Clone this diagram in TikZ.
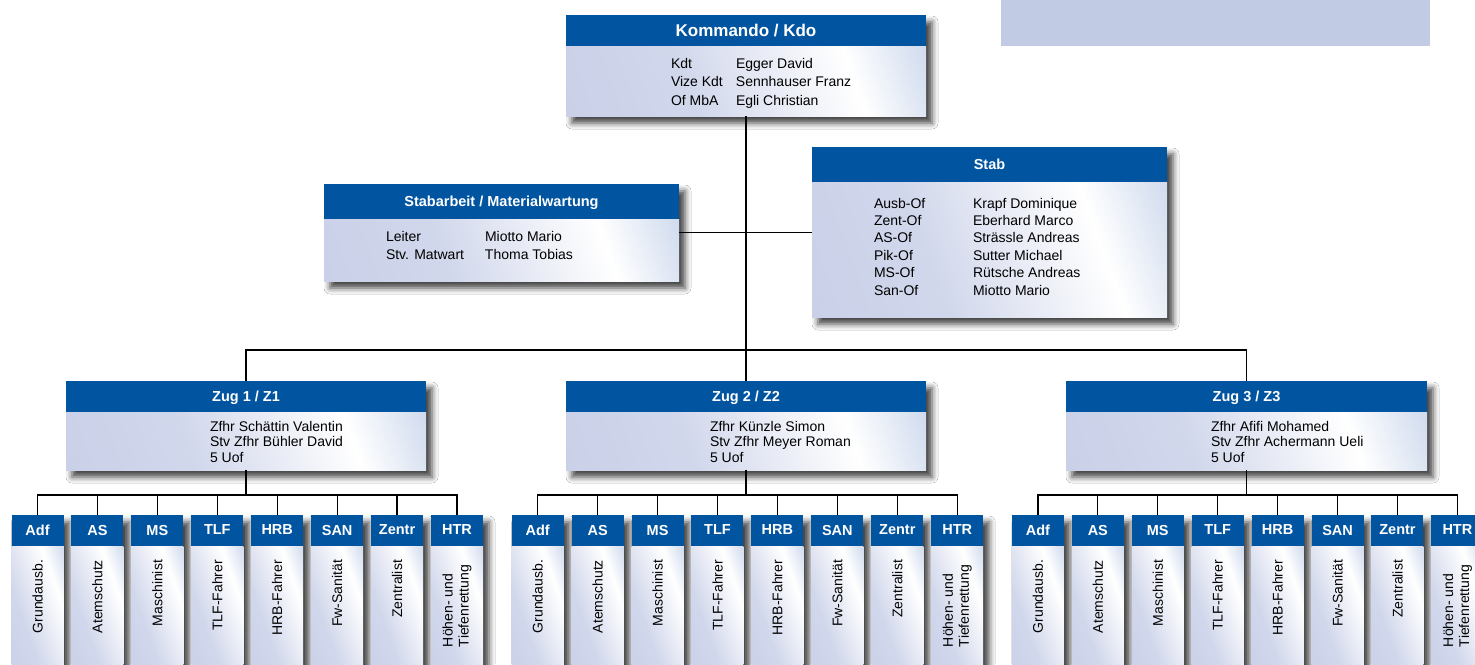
\documentclass[tikz,border=0pt]{standalone}
\usepackage{fontspec}
\setmainfont{Liberation Sans}
\usetikzlibrary{shadows.blur}
\definecolor{hdrblue}{RGB}{0,84,160}
\definecolor{bodyL}{RGB}{194,202,229}
\definecolor{bodyR}{RGB}{148,173,216}
\definecolor{topbar}{RGB}{193,203,227}
\pgfdeclarehorizontalshading{bodyshade}{100bp}{color(0bp)=(bodyL); color(40bp)=(bodyL!75!white); color(68bp)=(white); color(100bp)=(bodyR)}
\newcommand\obox[7]{%
  \node[frame, minimum width=#4, minimum height=#6, anchor=north west] (#1) at (#2,#3) {};
  \node[hdr, minimum width=#4, minimum height=#5, anchor=north west] (#1h) at (#1.north west) {#7};
  \node[bodyb, minimum width=#4, minimum height=#6-#5, anchor=north west] (#1b) at (#1h.south west) {};
}
\begin{document}
\begin{tikzpicture}[x=1pt,y=-1pt,
  frame/.style={inner sep=0, outer sep=0, fill=white,
    blur shadow={shadow xshift=6pt, shadow yshift=-7pt, shadow blur radius=6pt, shadow opacity=75}},
  hdr/.style={fill=hdrblue, text=white, font=\bfseries\fontsize{14.5}{16}\selectfont, inner sep=0, outer sep=0, text depth=1pt},
  bodyb/.style={shade, shading=bodyshade, shading angle=20, inner sep=0, outer sep=0},
  txt/.style={inner sep=0, outer sep=0, font=\fontsize{14}{15.5}\selectfont},
  vtxt/.style={inner sep=0, outer sep=0, font=\fontsize{14}{16}\selectfont, rotate=90},
  conn/.style={line width=1.2pt, black}]
\clip (0,0) rectangle (1475,664);
\fill[white] (0,0) rectangle (1475,664);
\fill[topbar] (1001,0) rectangle (1430,46);

% main boxes
\obox{kdo}{566}{15}{360}{31}{101}{\fontsize{17}{20}\selectfont Kommando / Kdo}
\obox{sa}{324}{184}{355}{35}{97}{Stabarbeit / Materialwartung}
\obox{stab}{812}{147}{355}{35}{170}{Stab}
\obox{z1}{66}{381}{360}{31}{89}{Zug 1 / Z1}
\obox{z2}{566}{381}{360}{31}{89}{Zug 2 / Z2}
\obox{z3}{1066}{381}{361}{31}{89}{Zug 3 / Z3}

% texts
\node[txt, anchor=base west, font=\fontsize{14}{18.5}\selectfont] (kdot) at (671,68)
  {\begin{tabular}[t]{@{}p{65pt}@{}l@{}}Kdt & Egger David\\ Vize Kdt & Sennhauser Franz\\ Of MbA & Egli Christian\end{tabular}};
\node[txt, anchor=base west, font=\fontsize{14}{17.5}\selectfont] (sat) at (386,241.5)
  {\begin{tabular}[t]{@{}p{99pt}@{}l@{}}Leiter & Miotto Mario\\ Stv. Matwart & Thoma Tobias\end{tabular}};
\node[txt, anchor=base west, font=\fontsize{14}{17.4}\selectfont] (stabt) at (874,208)
  {\begin{tabular}[t]{@{}p{99pt}@{}l@{}}Ausb-Of & Krapf Dominique\\ Zent-Of & Eberhard Marco\\ AS-Of & Strässle Andreas\\ Pik-Of & Sutter Michael\\ MS-Of & Rütsche Andreas\\ San-Of & Miotto Mario\end{tabular}};
\node[txt, anchor=base west] (z1t) at (210,431) {\begin{tabular}[t]{@{}l@{}}Zfhr Schättin Valentin\\Stv Zfhr Bühler David\\5 Uof\end{tabular}};
\node[txt, anchor=base west] (z2t) at (710,431) {\begin{tabular}[t]{@{}l@{}}Zfhr Künzle Simon\\Stv Zfhr Meyer Roman\\5 Uof\end{tabular}};
\node[txt, anchor=base west] (z3t) at (1211,431) {\begin{tabular}[t]{@{}l@{}}Zfhr Afifi Mohamed\\Stv Zfhr Achermann Ueli\\5 Uof\end{tabular}};

% small boxes
\foreach \g in {1,2,3}{
  \foreach \t/\d [count=\i from 0] in {Adf/Grundausb., AS/Atemschutz, MS/Maschinist, TLF/TLF-Fahrer, HRB/HRB-Fahrer, SAN/Fw-Sanität, Zentr/Zentralist}{
    \pgfmathsetmacro\sx{11.5+500.2*(\g-1)+59.93*\i}
    \obox{s\g-\i}{\sx}{515}{52}{31}{170}{\t}
    \node[vtxt, anchor=east] (v\g-\i) at (\sx+26,560) {\d};
  }
  \pgfmathsetmacro\sx{11.5+500.2*(\g-1)+59.93*7}
  \obox{s\g-7}{\sx}{515}{52}{31}{170}{HTR}
  \node[vtxt, anchor=west, align=left] (v\g-7) at (\sx+26,647) {Höhen- und\\Tiefenrettung};
}

% connectors
\coordinate (bus) at (746,350);
\draw[conn] (kdo.south) -- (kdo.south |- bus);
\draw[conn] (sa.east) -- (sa.east -| stab.west);
\draw[conn] (z1.north) -- (z1.north |- bus) -- (z3.north |- bus) -- (z3.north);
\draw[conn] (z2.north) -- (z2.north |- bus);
\foreach \g in {1,2,3}{
  \coordinate (b\g) at (0,495);
  \draw[conn] (z\g.south) -- (z\g.south |- b\g);
  \draw[conn] (s\g-0.north) -- (s\g-0.north |- b\g) -- (s\g-7.north |- b\g) -- (s\g-7.north);
  \foreach \i in {1,...,6}{
    \draw[conn] (s\g-\i.north) -- (s\g-\i.north |- b\g);
  }
}
\end{tikzpicture}
\end{document}
